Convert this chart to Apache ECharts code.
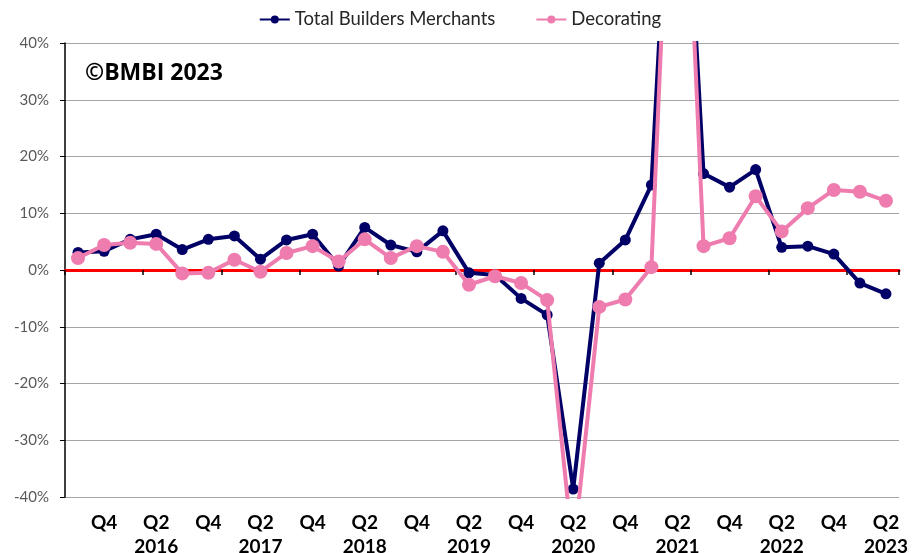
<!DOCTYPE html>
<html>
<head>
<meta charset="utf-8">
<script src="https://cdn.jsdelivr.net/npm/echarts@6/dist/echarts.min.js"></script>
<style>
html, body { margin: 0; padding: 0; background: #fff; }
#chart { width: 920px; height: 553px; }
</style>
</head>
<body>
<div id="chart"></div>
<script>
// quarterly categories, Q3 2015 .. Q2 2023
const categories = [
  'Q3 2015', 'Q4 2015',
  'Q1 2016', 'Q2 2016', 'Q3 2016', 'Q4 2016',
  'Q1 2017', 'Q2 2017', 'Q3 2017', 'Q4 2017',
  'Q1 2018', 'Q2 2018', 'Q3 2018', 'Q4 2018',
  'Q1 2019', 'Q2 2019', 'Q3 2019', 'Q4 2019',
  'Q1 2020', 'Q2 2020', 'Q3 2020', 'Q4 2020',
  'Q1 2021', 'Q2 2021', 'Q3 2021', 'Q4 2021',
  'Q1 2022', 'Q2 2022', 'Q3 2022', 'Q4 2022',
  'Q1 2023', 'Q2 2023'
];

// year-on-year change, %
const totalMerchants = [
  3.1, 3.3, 5.4, 6.3, 3.6, 5.4, 6.0, 1.9, 5.3, 6.3, 0.7, 7.5, 4.4, 3.2, 6.9, -0.5,
  -0.9, -5.0, -7.9, -38.6, 1.2, 5.3, 15.0, 100, 17.0, 14.6, 17.7, 4.0, 4.2, 2.8, -2.3, -4.2
];
const decorating = [
  2.1, 4.4, 4.8, 4.6, -0.6, -0.5, 1.8, -0.3, 3.0, 4.2, 1.5, 5.4, 2.1, 4.2, 3.2, -2.6,
  -1.1, -2.3, -5.3, -50, -6.5, -5.2, 0.5, 107, 4.2, 5.6, 13.0, 6.8, 10.9, 14.1, 13.8, 12.2
];

const yMin = -40;
const yMax = 40;
const yStep = 10;

let myChart = echarts.init(document.getElementById('chart'));

let option = {
  animation: false,
  backgroundColor: '#ffffff',
  legend: {
    top: 5,
    left: 'center',
    itemGap: 40,
    itemWidth: 30,
    itemHeight: 10,
    textStyle: { fontFamily: 'Lato', fontSize: 18.5, color: '#262626' },
    data: ['Total Builders Merchants', 'Decorating']
  },
  graphic: [{
    type: 'text',
    left: 85,
    top: 62,
    style: {
      text: '©BMBI 2023',
      font: 'bold 23px "Open Sans"',
      fill: '#000'
    }
  }],
  grid: { left: 65, right: 21, top: 43, bottom: 56, outerBoundsMode: 'none' },
  xAxis: [
    {
      type: 'category',
      position: 'bottom',
      data: categories,
      boundaryGap: true,
      axisLine: { show: false, onZero: false },
      axisTick: { show: false },
      axisLabel: {
        interval: 0,
        margin: 14,
        fontFamily: 'Lato',
        fontWeight: 'bold',
        fontSize: 19,
        lineHeight: 24,
        color: '#000',
        formatter: function (v) {
          const parts = v.split(' ');
          if (parts[0] === 'Q4') return 'Q4';
          if (parts[0] === 'Q2') return 'Q2\n' + parts[1];
          return '';
        }
      }
    },
    {
      type: 'category',
      position: 'top',
      data: categories,
      boundaryGap: true,
      axisLine: { show: true, onZero: true, lineStyle: { color: '#ff0000', width: 3 } },
      axisTick: { show: true, inside: true, length: 5, lineStyle: { color: '#000', width: 1.5 } },
      axisLabel: { show: false }
    }
  ],
  yAxis: {
    type: 'value',
    min: yMin,
    max: yMax,
    interval: yStep,
    axisLine: { show: true, lineStyle: { color: '#000', width: 1.5 } },
    axisTick: { show: true, length: 5, lineStyle: { color: '#000' } },
    splitLine: { lineStyle: { color: '#a6a6a6', width: 1 } },
    axisLabel: {
      margin: 16,
      fontFamily: 'Lato',
      fontSize: 15,
      color: '#595959',
      formatter: '{value}%'
    }
  },
  series: [
    {
      name: 'Total Builders Merchants',
      type: 'line',
      data: totalMerchants,
      symbol: 'circle',
      symbolSize: 11,
      color: '#000066',
      lineStyle: { width: 4, color: '#000066' },
      itemStyle: { color: '#000066' },
      clip: true,
      z: 3
    },
    {
      name: 'Decorating',
      type: 'line',
      data: decorating,
      symbol: 'circle',
      symbolSize: 14,
      color: '#ef7cae',
      lineStyle: { width: 4, color: '#ef7cae' },
      itemStyle: { color: '#ef7cae' },
      clip: true,
      z: 4
    }
  ]
};
option && myChart.setOption(option);
</script>
</body>
</html>
